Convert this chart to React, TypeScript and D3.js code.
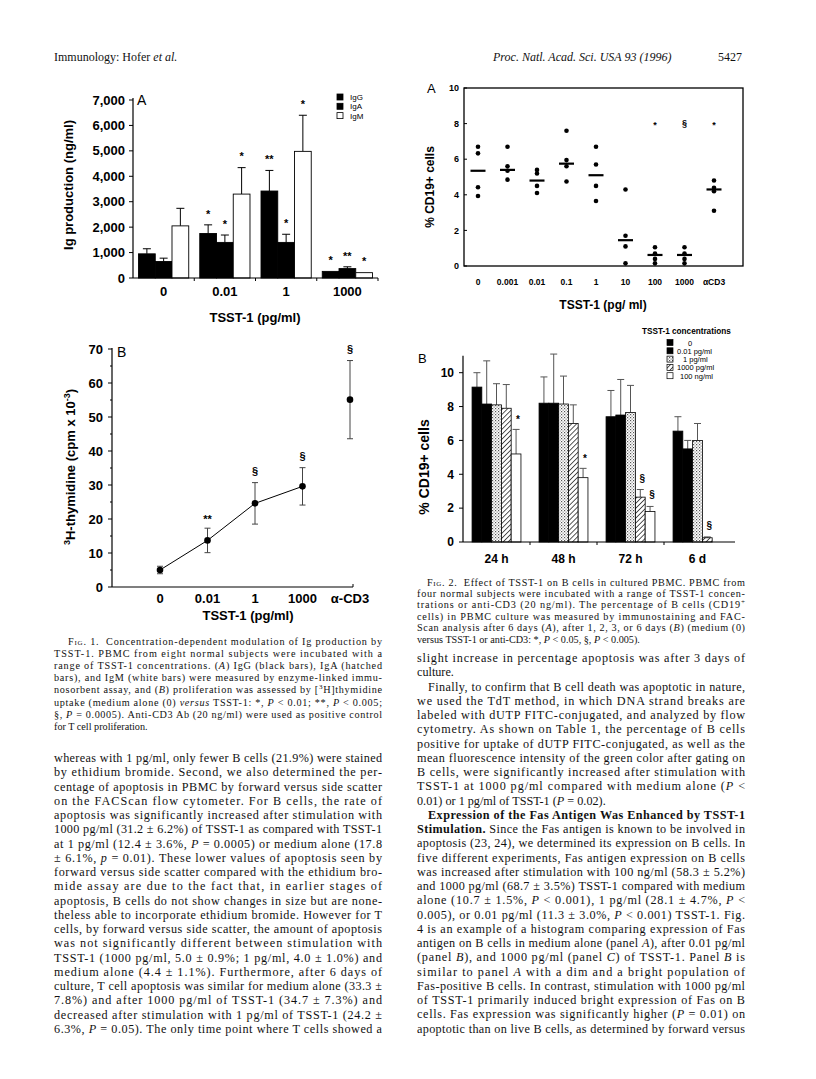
import React from "react";
import * as d3 from "d3";

const SANS = "'Liberation Sans', Arial, Helvetica, sans-serif";
const SERIF = "'Liberation Serif', 'Times New Roman', Times, serif";

// ---------------- Fig. 1A data ----------------
const f1aGroups = ["0", "0.01", "1", "1000"];
const f1aSeries = ["IgG", "IgA", "IgM"];
const f1aIgG = [950, 1750, 3420, 260];
const f1aIgGErr = [200, 340, 810, 0];
const f1aIgA = [650, 1400, 1400, 370];
const f1aIgAErr = [130, 290, 320, 70];
const f1aIgM = [2050, 3300, 4980, 210];
const f1aIgMErr = [690, 1040, 1420, 0];
const f1aSig = [["", "", ""], ["*", "*", "*"], ["**", "*", "*"], ["*", "**", "*"]];
const f1aYTicks = [0, 1000, 2000, 3000, 4000, 5000, 6000, 7000];

// ---------------- Fig. 1B data ----------------
const f1bCats = ["0", "0.01", "1", "1000", "α-CD3"];
const f1bMean = [5.0, 13.7, 24.6, 29.6, 55.1];
const f1bErr = [1.1, 3.6, 6.1, 5.5, 11.5];
const f1bSig = ["", "**", "§", "§", "§"];
const f1bYTicks = [0, 10, 20, 30, 40, 50, 60, 70];
const f1bMinor = [5, 15, 25, 35, 45, 55, 65];

// ---------------- Fig. 2A data ----------------
const f2aCats = ["0", "0.001", "0.01", "0.1", "1", "10", "100", "1000", "αCD3"];
const f2aPoints = [
  [6.7, 6.33, 4.42, 3.93],
  [6.7, 5.6, 5.35, 4.85],
  [5.4, 5.2, 4.5, 4.1],
  [7.6, 5.95, 5.6, 4.75],
  [6.7, 5.7, 4.5, 3.65],
  [4.3, 1.7, 1.1, 0.15],
  [1.05, 0.7, 0.4, 0.15],
  [1.05, 0.7, 0.4, 0.15],
  [4.8, 4.4, 4.2, 3.1],
];
const f2aMeans = [5.35, 5.4, 4.8, 5.75, 5.1, 1.45, 0.62, 0.62, 4.3];
const f2aSig = ["", "", "", "", "", "", "*", "§", "*"];
const f2aSigLevel = 8;
const f2aYTicks = [0, 2, 4, 6, 8, 10];

// ---------------- Fig. 2B data ----------------
const f2bTimes = ["24 h", "48 h", "72 h", "6 d"];
const f2bConc = ["0", "0.01 pg/ml", "1 pg/ml", "1000 pg/ml", "100 ng/ml"];
const f2bC0 = [9.15, 8.2, 7.4, 6.55];
const f2bC0Err = [0.85, 1.55, 1.55, 0.85];
const f2bC001 = [8.15, 8.2, 7.5, 5.5];
const f2bC001Err = [2.55, 2.9, 2.1, 0.5];
const f2bC1 = [8.1, 8.15, 7.65, 6.0];
const f2bC1Err = [1.25, 1.65, 1.6, 1.0];
const f2bC1000 = [7.9, 7.0, 2.65, 0.25];
const f2bC1000Err = [1.4, 1.1, 0.45, 0.05];
const f2bC100ng = [5.2, 3.8, 1.8, 0];
const f2bC100ngErr = [1.45, 0.55, 0.3, 0];
const f2bSig = [
  ["", "", "", "", "*"],
  ["", "", "", "", "*"],
  ["", "", "", "§", "§"],
  ["", "", "", "§", ""],
];
const f2bYTicks = [0, 2, 4, 6, 8, 10];

// ---------------- Text ----------------
const headerLeft = "Immunology: Hofer _et al._";
const headerRight = "_Proc. Natl. Acad. Sci. USA 93 (1996)_";
const headerPage = "5427";

// [text, justified, indent]
const fig1Caption: [string, boolean, number][] = [
  ["|Fig. 1.|  Concentration-dependent modulation of Ig production by", true, 14],
  ["TSST-1. PBMC from eight normal subjects were incubated with a", true, 0],
  ["range of TSST-1 concentrations. (_A_) IgG (black bars), IgA (hatched", true, 0],
  ["bars), and IgM (white bars) were measured by enzyme-linked immu-", true, 0],
  ["nosorbent assay, and (_B_) proliferation was assessed by [~3~H]thymidine", true, 0],
  ["uptake (medium alone (0) _versus_ TSST-1: *, _P_ < 0.01; **, _P_ < 0.005;", true, 0],
  ["§, _P_ = 0.0005). Anti-CD3 Ab (20 ng/ml) were used as positive control", true, 0],
  ["for T cell proliferation.", false, 0],
];

const leftBody: [string, boolean, number][] = [
  ["whereas with 1 pg/ml, only fewer B cells (21.9%) were stained", true, 0],
  ["by ethidium bromide. Second, we also determined the per-", true, 0],
  ["centage of apoptosis in PBMC by forward versus side scatter", true, 0],
  ["on the FACScan flow cytometer. For B cells, the rate of", true, 0],
  ["apoptosis was significantly increased after stimulation with", true, 0],
  ["1000 pg/ml (31.2 ± 6.2%) of TSST-1 as compared with TSST-1", true, 0],
  ["at 1 pg/ml (12.4 ± 3.6%, _P_ = 0.0005) or medium alone (17.8", true, 0],
  ["± 6.1%, _p_ = 0.01). These lower values of apoptosis seen by", true, 0],
  ["forward versus side scatter compared with the ethidium bro-", true, 0],
  ["mide assay are due to the fact that, in earlier stages of", true, 0],
  ["apoptosis, B cells do not show changes in size but are none-", true, 0],
  ["theless able to incorporate ethidium bromide. However for T", true, 0],
  ["cells, by forward versus side scatter, the amount of apoptosis", true, 0],
  ["was not significantly different between stimulation with", true, 0],
  ["TSST-1 (1000 pg/ml, 5.0 ± 0.9%; 1 pg/ml, 4.0 ± 1.0%) and", true, 0],
  ["medium alone (4.4 ± 1.1%). Furthermore, after 6 days of", true, 0],
  ["culture, T cell apoptosis was similar for medium alone (33.3 ±", true, 0],
  ["7.8%) and after 1000 pg/ml of TSST-1 (34.7 ± 7.3%) and", true, 0],
  ["decreased after stimulation with 1 pg/ml of TSST-1 (24.2 ±", true, 0],
  ["6.3%, _P_ = 0.05). The only time point where T cells showed a", true, 0],
];

const fig2Caption: [string, boolean, number][] = [
  ["|Fig. 2.|  Effect of TSST-1 on B cells in cultured PBMC. PBMC from", true, 10],
  ["four normal subjects were incubated with a range of TSST-1 concen-", true, 0],
  ["trations or anti-CD3 (20 ng/ml). The percentage of B cells (CD19~+~", true, 0],
  ["cells) in PBMC culture was measured by immunostaining and FAC-", true, 0],
  ["Scan analysis after 6 days (_A_), after 1, 2, 3, or 6 days (_B_) (medium (0)", true, 0],
  ["versus TSST-1 or anti-CD3: *, _P_ < 0.05, §, _P_ < 0.005).", false, 0],
];

const rightBody: [string, boolean, number][] = [
  ["slight increase in percentage apoptosis was after 3 days of", true, 0],
  ["culture.", false, 0],
  ["Finally, to confirm that B cell death was apoptotic in nature,", true, 11],
  ["we used the TdT method, in which DNA strand breaks are", true, 0],
  ["labeled with dUTP FITC-conjugated, and analyzed by flow", true, 0],
  ["cytometry. As shown on Table 1, the percentage of B cells", true, 0],
  ["positive for uptake of dUTP FITC-conjugated, as well as the", true, 0],
  ["mean fluorescence intensity of the green color after gating on", true, 0],
  ["B cells, were significantly increased after stimulation with", true, 0],
  ["TSST-1 at 1000 pg/ml compared with medium alone (_P_ <", true, 0],
  ["0.01) or 1 pg/ml of TSST-1 (_P_ = 0.02).", false, 0],
  ["^Expression of the Fas Antigen Was Enhanced by TSST-1^", true, 11],
  ["^Stimulation.^ Since the Fas antigen is known to be involved in", true, 0],
  ["apoptosis (23, 24), we determined its expression on B cells. In", true, 0],
  ["five different experiments, Fas antigen expression on B cells", true, 0],
  ["was increased after stimulation with 100 ng/ml (58.3 ± 5.2%)", true, 0],
  ["and 1000 pg/ml (68.7 ± 3.5%) TSST-1 compared with medium", true, 0],
  ["alone (10.7 ± 1.5%, _P_ < 0.001), 1 pg/ml (28.1 ± 4.7%, _P_ <", true, 0],
  ["0.005), or 0.01 pg/ml (11.3 ± 3.0%, _P_ < 0.001) TSST-1. Fig.", true, 0],
  ["4 is an example of a histogram comparing expression of Fas", true, 0],
  ["antigen on B cells in medium alone (panel _A_), after 0.01 pg/ml", true, 0],
  ["(panel _B_), and 1000 pg/ml (panel _C_) of TSST-1. Panel _B_ is", true, 0],
  ["similar to panel _A_ with a dim and a bright population of", true, 0],
  ["Fas-positive B cells. In contrast, stimulation with 1000 pg/ml", true, 0],
  ["of TSST-1 primarily induced bright expression of Fas on B", true, 0],
  ["cells. Fas expression was significantly higher (_P_ = 0.01) on", true, 0],
  ["apoptotic than on live B cells, as determined by forward versus", true, 0],
];

// ---------------- helpers ----------------
function rich(s: string, size: number) {
  const out: any[] = [];
  let it = false, bd = false, sup = false, sc = false;
  let buf = "";
  let k = 0;
  const flush = () => {
    if (!buf) return;
    out.push(
      <tspan
        key={k++}
        fontStyle={it ? "italic" : undefined}
        fontWeight={bd ? "bold" : undefined}
        fontVariant={sc ? "small-caps" : undefined}
        baselineShift={sup ? "super" : undefined}
        fontSize={sup ? size * 0.7 : undefined}
      >
        {buf}
      </tspan>
    );
    buf = "";
  };
  for (const ch of s) {
    if (ch === "_") { flush(); it = !it; }
    else if (ch === "^") { flush(); bd = !bd; }
    else if (ch === "~") { flush(); sup = !sup; }
    else if (ch === "|") { flush(); sc = !sc; }
    else buf += ch;
  }
  flush();
  return out;
}

function TextBlock({ lines, x, w, y0, dy, size }: { lines: [string, boolean, number][]; x: number; w: number; y0: number; dy: number; size: number }) {
  return (
    <g fontFamily={SERIF} fontSize={size} fill="#111">
      {lines.map(([s, just, ind], i) => (
        <text
          key={i}
          x={x + ind}
          y={y0 + i * dy}
          textLength={just ? w - ind : undefined}
          lengthAdjust={just ? "spacing" : undefined}
          style={{ whiteSpace: "pre" }}
        >
          {rich(s, size)}
        </text>
      ))}
    </g>
  );
}

const sigOffset = (g: string, fs: number) => (g.includes("*") ? 0.5 * fs : 0.3 * fs);

// ---------------- Fig 1A ----------------
function Fig1A() {
  const x0 = d3.scaleBand().domain(f1aGroups).range([133, 378]).paddingInner(0.18).paddingOuter(0.09);
  const x1 = d3.scaleBand().domain(f1aSeries).range([0, x0.bandwidth()]);
  const y = d3.scaleLinear().domain([0, 7000]).range([278, 100]);
  const vals = [f1aIgG, f1aIgA, f1aIgM];
  const errs = [f1aIgGErr, f1aIgAErr, f1aIgMErr];
  const fills = ["#000", "#000", "#fff"];
  const step = x0.step();
  return (
    <g fontFamily={SANS}>
      {f1aGroups.map((g, gi) =>
        f1aSeries.map((s, si) => {
          const bx = (x0(g) as number) + (x1(s) as number);
          const bw = x1.bandwidth();
          const v = vals[si][gi];
          const e = errs[si][gi];
          const top = y(v + e);
          const cx = bx + bw / 2;
          const sig = f1aSig[gi][si];
          return (
            <g key={g + s}>
              {e > 0 && <line x1={cx} x2={cx} y1={y(v)} y2={top} stroke="#000" strokeWidth={1} />}
              {e > 0 && <line x1={cx - 4} x2={cx + 4} y1={top} y2={top} stroke="#000" strokeWidth={1} />}
              <rect x={bx} y={y(v)} width={bw} height={y(0) - y(v)} fill={fills[si]} stroke="#000" strokeWidth={0.9} />
              {sig && (
                <text x={cx} y={top - 12.7 + sigOffset(sig, 11)} textAnchor="middle" fontSize={11} fontWeight="bold">{sig}</text>
              )}
            </g>
          );
        })
      )}
      <line x1={133} x2={133} y1={y(0)} y2={y(7000) - 2} stroke="#000" strokeWidth={1.2} />
      <line x1={133} x2={378} y1={y(0)} y2={y(0)} stroke="#000" strokeWidth={1.2} />
      {f1aYTicks.map((t) => (
        <g key={t}>
          <line x1={129} x2={133} y1={y(t)} y2={y(t)} stroke="#000" strokeWidth={1} />
          <text x={125} y={y(t) + 4.5} textAnchor="end" fontSize={13} fontWeight="bold">{d3.format(",")(t)}</text>
        </g>
      ))}
      {f1aGroups.slice(1).map((g) => (
        <line key={g} x1={(x0(g) as number) - (step - x0.bandwidth()) / 2} x2={(x0(g) as number) - (step - x0.bandwidth()) / 2} y1={y(0)} y2={y(0) + 3} stroke="#000" />
      ))}
      <line x1={378} x2={378} y1={y(0)} y2={y(0) + 3} stroke="#000" />
      {f1aGroups.map((g) => (
        <text key={g} x={(x0(g) as number) + x0.bandwidth() / 2} y={295.5} textAnchor="middle" fontSize={13} fontWeight="bold">{g}</text>
      ))}
      <text x={255} y={321.5} textAnchor="middle" fontSize={13} fontWeight="bold">TSST-1 (pg/ml)</text>
      <text transform="translate(73,185) rotate(-90)" textAnchor="middle" fontSize={13} fontWeight="bold">Ig production (ng/ml)</text>
      <text x={137} y={105} fontSize={14}>A</text>
      {f1aSeries.map((s, i) => (
        <g key={s}>
          <rect x={337} y={94 + i * 9.3} width={6} height={6} fill={fills[i]} stroke="#000" strokeWidth={0.8} />
          <text x={350} y={100 + i * 9.3} fontSize={8}>{s}</text>
        </g>
      ))}
    </g>
  );
}

// ---------------- Fig 1B ----------------
function Fig1B() {
  const x = d3.scalePoint().domain(f1bCats).range([160, 350]);
  const y = d3.scaleLinear().domain([0, 70]).range([587, 349]);
  const lineGen = d3.line<number>().x((_, i) => x(f1bCats[i]) as number).y((d) => y(d));
  return (
    <g fontFamily={SANS}>
      <line x1={112} x2={112} y1={587} y2={y(70) - 1} stroke="#000" strokeWidth={1.2} />
      <line x1={112} x2={353} y1={587} y2={587} stroke="#000" strokeWidth={1.2} />
      <line x1={353} x2={353} y1={587} y2={584} stroke="#000" />
      {f1bYTicks.map((t) => (
        <g key={t}>
          <line x1={108} x2={112} y1={y(t)} y2={y(t)} stroke="#000" />
          <text x={103} y={y(t) + 4.5} textAnchor="end" fontSize={13} fontWeight="bold">{t}</text>
        </g>
      ))}
      {f1bMinor.map((t) => (
        <line key={t} x1={110} x2={112} y1={y(t)} y2={y(t)} stroke="#000" />
      ))}
      <path d={lineGen(f1bMean.slice(0, 4)) as string} fill="none" stroke="#000" strokeWidth={1} />
      {f1bCats.map((c, i) => {
        const cx = x(c) as number;
        const hi = y(f1bMean[i] + f1bErr[i]);
        const lo = y(f1bMean[i] - f1bErr[i]);
        const sig = f1bSig[i];
        return (
          <g key={c}>
            <line x1={cx} x2={cx} y1={hi} y2={lo} stroke="#444" strokeWidth={1} />
            <line x1={cx - 3} x2={cx + 3} y1={hi} y2={hi} stroke="#444" />
            <line x1={cx - 3} x2={cx + 3} y1={lo} y2={lo} stroke="#444" />
            <circle cx={cx} cy={y(f1bMean[i])} r={3.3} fill="#000" />
            {sig && <text x={cx} y={hi - 11 + sigOffset(sig, 11)} textAnchor="middle" fontSize={11} fontWeight="bold">{sig}</text>}
            <text x={cx} y={602.5} textAnchor="middle" fontSize={13} fontWeight="bold">{c}</text>
          </g>
        );
      })}
      <text x={248} y={619.5} textAnchor="middle" fontSize={13} fontWeight="bold">TSST-1 (pg/ml)</text>
      <text transform="translate(75,467) rotate(-90)" textAnchor="middle" fontSize={13} fontWeight="bold">
        <tspan fontSize={9} baselineShift="super">3</tspan>
        <tspan>H-thymidine (cpm x 10</tspan>
        <tspan fontSize={9} baselineShift="super">-3</tspan>
        <tspan>)</tspan>
      </text>
      <text x={117} y={357} fontSize={14}>B</text>
    </g>
  );
}

// ---------------- Fig 2A ----------------
function Fig2A() {
  const x = d3.scalePoint().domain(f2aCats).range([478, 714]);
  const y = d3.scaleLinear().domain([0, 10]).range([266, 88]);
  return (
    <g fontFamily={SANS}>
      <rect x={464} y={88} width={279} height={178} fill="none" stroke="#000" strokeWidth={1.3} />
      {f2aYTicks.map((t) => (
        <g key={t}>
          <line x1={464} x2={467} y1={y(t)} y2={y(t)} stroke="#000" />
          <text x={459} y={y(t) + 3.2} textAnchor="end" fontSize={9} fontWeight="bold">{t}</text>
        </g>
      ))}
      {f2aCats.map((c, i) => {
        const cx = x(c) as number;
        const sig = f2aSig[i];
        return (
          <g key={c}>
            {f2aPoints[i].map((v, j) => (
              <circle key={j} cx={cx} cy={y(v)} r={2.3} fill="#000" />
            ))}
            <line x1={cx - 7.5} x2={cx + 7.5} y1={y(f2aMeans[i])} y2={y(f2aMeans[i])} stroke="#000" strokeWidth={2.2} />
            {sig && <text x={cx} y={y(f2aSigLevel) + sigOffset(sig, 9)} textAnchor="middle" fontSize={9} fontWeight="bold">{sig}</text>}
            <text x={cx} y={284.5} textAnchor="middle" fontSize={8.5} fontWeight="bold">{c}</text>
          </g>
        );
      })}
      <text x={603} y={309} textAnchor="middle" fontSize={12} fontWeight="bold">TSST-1 (pg/ ml)</text>
      <text transform="translate(434,187) rotate(-90)" textAnchor="middle" fontSize={12} fontWeight="bold">% CD19+ cells</text>
      <text x={427} y={93} fontSize={13}>A</text>
    </g>
  );
}

// ---------------- Fig 2B ----------------
function Fig2B() {
  const x0 = d3.scaleBand().domain(f2bTimes).range([463, 731]).paddingInner(0.27).paddingOuter(0.135);
  const x1 = d3.scaleBand().domain(f2bConc).range([0, x0.bandwidth()]);
  const y = d3.scaleLinear().domain([0, 10]).range([542, 372.7]);
  const vals = [f2bC0, f2bC001, f2bC1, f2bC1000, f2bC100ng];
  const errs = [f2bC0Err, f2bC001Err, f2bC1Err, f2bC1000Err, f2bC100ngErr];
  const fills = ["#000", "#000", "url(#stipple)", "url(#hatch)", "#fff"];
  const step = x0.step();
  return (
    <g fontFamily={SANS}>
      <defs>
        <pattern id="stipple" width={3} height={3} patternUnits="userSpaceOnUse">
          <rect width={3} height={3} fill="#fff" />
          <rect x={0} y={0} width={1.2} height={1.2} fill="#555" />
          <rect x={1.5} y={1.5} width={1.2} height={1.2} fill="#888" />
        </pattern>
        <pattern id="hatch" width={3.5} height={3.5} patternUnits="userSpaceOnUse" patternTransform="rotate(45)">
          <rect width={3.5} height={3.5} fill="#fff" />
          <line x1={0} y1={0} x2={0} y2={3.5} stroke="#000" strokeWidth={1.3} />
        </pattern>
      </defs>
      {f2bTimes.map((t, ti) =>
        f2bConc.map((c, ci) => {
          const bx = (x0(t) as number) + (x1(c) as number);
          const bw = x1.bandwidth();
          const v = vals[ci][ti];
          const e = errs[ci][ti];
          const top = y(v + e);
          const cx = bx + bw / 2;
          const sig = f2bSig[ti][ci];
          return (
            <g key={t + c}>
              {e > 0 && <line x1={cx} x2={cx} y1={y(v)} y2={top} stroke="#555" strokeWidth={1} />}
              {e > 0 && <line x1={cx - 3.5} x2={cx + 3.5} y1={top} y2={top} stroke="#555" strokeWidth={1} />}
              {v > 0 && <rect x={bx} y={y(v)} width={bw} height={y(0) - y(v)} fill={fills[ci]} stroke="#000" strokeWidth={0.8} />}
              {sig && <text x={cx + 2} y={top - 11 + sigOffset(sig, 10)} textAnchor="middle" fontSize={10} fontWeight="bold">{sig}</text>}
            </g>
          );
        })
      )}
      <line x1={463} x2={463} y1={542} y2={y(11)} stroke="#000" strokeWidth={1.2} />
      <line x1={463} x2={735} y1={542} y2={542} stroke="#000" strokeWidth={1.2} />
      {f2bYTicks.map((t) => (
        <g key={t}>
          <line x1={459} x2={463} y1={y(t)} y2={y(t)} stroke="#000" />
          <text x={454} y={y(t) + 4.3} textAnchor="end" fontSize={12} fontWeight="bold">{t}</text>
        </g>
      ))}
      {f2bTimes.slice(1).map((t) => (
        <line key={t} x1={(x0(t) as number) - (step - x0.bandwidth()) / 2} x2={(x0(t) as number) - (step - x0.bandwidth()) / 2} y1={542} y2={545} stroke="#000" />
      ))}
      {f2bTimes.map((t) => (
        <text key={t} x={(x0(t) as number) + x0.bandwidth() / 2} y={562.5} textAnchor="middle" fontSize={12} fontWeight="bold">{t}</text>
      ))}
      <text transform="translate(429,467) rotate(-90)" textAnchor="middle" fontSize={14} fontWeight="bold">% CD19+ cells</text>
      <text x={418} y={363} fontSize={13}>B</text>
      <text x={642} y={334} fontSize={8.2} fontWeight="bold">TSST-1 concentrations</text>
      {f2bConc.map((c, i) => (
        <g key={c}>
          <rect x={667} y={339.5 + i * 8.3} width={6} height={6} fill={fills[i]} stroke="#000" strokeWidth={0.7} />
          <text x={c === "0" ? 688 : c === "1 pg/ml" ? 683 : c === "100 ng/ml" ? 680 : 677} y={345.5 + i * 8.3} fontSize={7.5}>{c}</text>
        </g>
      ))}
    </g>
  );
}

export default function App() {
  return (
    <svg width={816} height={1079} viewBox="0 0 816 1079" style={{ position: "absolute", left: 0, top: 0, background: "#fff" }}>
      <rect width={816} height={1079} fill="#fff" />
      <g fontFamily={SERIF} fontSize={12} fill="#111">
        <text x={54} y={61}>{rich(headerLeft, 12)}</text>
        <text x={493} y={61}>{rich(headerRight, 12)}</text>
        <text x={742} y={61} textAnchor="end">{headerPage}</text>
      </g>
      <Fig1A />
      <Fig1B />
      <Fig2A />
      <Fig2B />
      <TextBlock lines={fig1Caption} x={54} w={328} y0={644.5} dy={12.2} size={10.2} />
      <TextBlock lines={leftBody} x={54} w={328} y0={762} dy={14.25} size={12.2} />
      <TextBlock lines={fig2Caption} x={417} w={328} y0={585.5} dy={11.4} size={10.2} />
      <TextBlock lines={rightBody} x={417} w={328} y0={662} dy={14.25} size={12.2} />
    </svg>
  );
}
